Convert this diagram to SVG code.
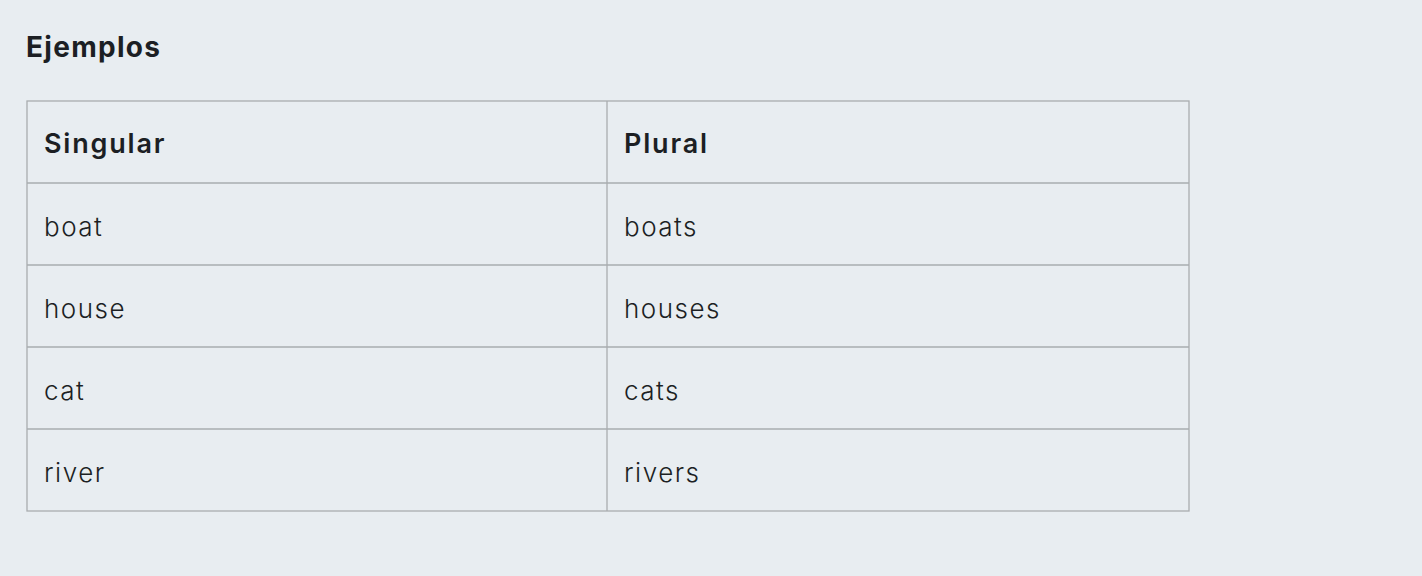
<svg xmlns="http://www.w3.org/2000/svg" width="1422" height="576" viewBox="0 0 1422 576">
<style>
.t{font-family:Inter,"Open Sans","Liberation Sans",sans-serif;fill:#1c1f24}
.title{font-size:28px;font-weight:700;letter-spacing:1.3px}
.h{font-size:27px;font-weight:600;letter-spacing:1.8px}
.c{font-size:26px;font-weight:300;letter-spacing:1.5px}
.ln{stroke:#a9acaf;stroke-width:1.3;fill:none}
</style>
<rect width="1422" height="576" fill="#e8edf1"/>
<text id="title" class="t title" x="26" y="57">Ejemplos</text>
<g id="table">
<rect x="27" y="101" width="1162" height="410" fill="#e6ecf1" class="ln"/>
<line class="ln" x1="607" y1="101" x2="607" y2="511"/>
<line class="ln" x1="27" y1="183" x2="1189" y2="183"/>
<line class="ln" x1="27" y1="265" x2="1189" y2="265"/>
<line class="ln" x1="27" y1="347" x2="1189" y2="347"/>
<line class="ln" x1="27" y1="429" x2="1189" y2="429"/>
</g>
<g id="cells">
<text class="t h" x="44" y="153">Singular</text>
<text class="t h" x="624" y="153">Plural</text>
<text class="t c" x="44" y="236">boat</text>
<text class="t c" x="624" y="236">boats</text>
<text class="t c" x="44" y="318">house</text>
<text class="t c" x="624" y="318">houses</text>
<text class="t c" x="44" y="400">cat</text>
<text class="t c" x="624" y="400">cats</text>
<text class="t c" x="44" y="482">river</text>
<text class="t c" x="624" y="482">rivers</text>
</g>
</svg>
